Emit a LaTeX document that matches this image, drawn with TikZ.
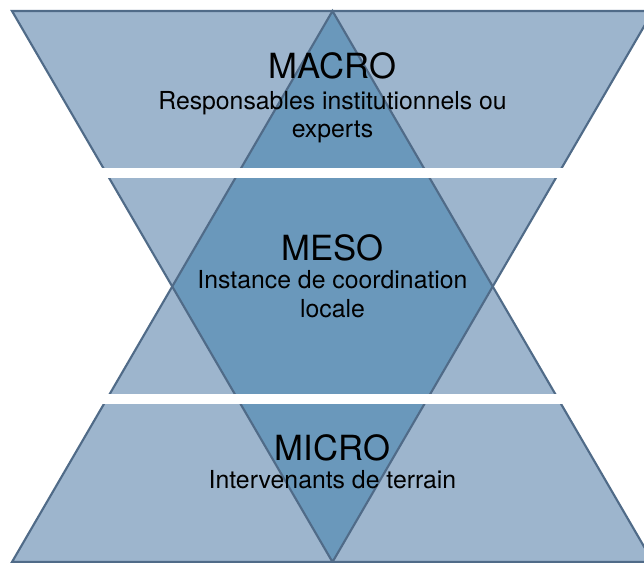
\documentclass[tikz,border=0pt]{standalone}
\usepackage{fontspec}
\setmainfont{TeX Gyre Heros}
\usetikzlibrary{positioning}
\definecolor{bandlight}{HTML}{9DB5CD}
\definecolor{banddark}{HTML}{6A98BB}
\definecolor{bandedge}{HTML}{506B88}
\tikzset{
  bandline/.style={draw=bandedge, line width=1.6pt, line join=miter},
  levelname/.style={font=\fontsize{26}{30}\selectfont, inner sep=0pt},
  leveltext/.style={font=\fontsize{18.6}{21.5}\selectfont, align=center, inner sep=0pt},
  gapbar/.style={fill=white}
}
\begin{document}
\begin{tikzpicture}[x=0.75pt,y=-0.75pt]
  \useasboundingbox (0,0) rectangle (644,562);
  \clip (0,0) rectangle (644,562);

  % --- corners of the two triangles ---
  \coordinate (dl) at (12,11);
  \coordinate (dr) at (653,11);
  \coordinate (db) at (332.5,562);
  \coordinate (ut) at (332.5,11);
  \coordinate (ul) at (12,562);
  \coordinate (ur) at (653,562);

  % fills
  \fill[bandlight] (dl) -- (dr) -- (db) -- cycle;
  \fill[bandlight] (ut) -- (ul) -- (ur) -- cycle;
  \begin{scope}
    \clip (dl) -- (dr) -- (db) -- cycle;
    \fill[banddark] (ut) -- (ul) -- (ur) -- cycle;
  \end{scope}

  % outlines
  \draw[bandline] (dl) -- (dr) -- (db) -- cycle;
  \draw[bandline] (ut) -- (ul) -- (ur) -- cycle;

  % white gaps between the levels
  \fill[gapbar] (0,168) rectangle (644,178);
  \fill[gapbar] (0,394) rectangle (644,404);

  % --- labels ---
  \node[levelname] (macro) at (332.5,66) {MACRO};
  \node[leveltext, below=8.5pt of macro] (macrotxt) {Responsables institutionnels ou\\experts};

  \node[levelname] (meso) at (332.5,248) {MESO};
  \node[leveltext, below=6.5pt of meso] (mesotxt) {Instance de coordination\\locale};

  \node[levelname] (micro) at (332.5,447.5) {MICRO};
  \node[leveltext, below=6.8pt of micro] (microtxt) {Intervenants de terrain};
\end{tikzpicture}
\end{document}
